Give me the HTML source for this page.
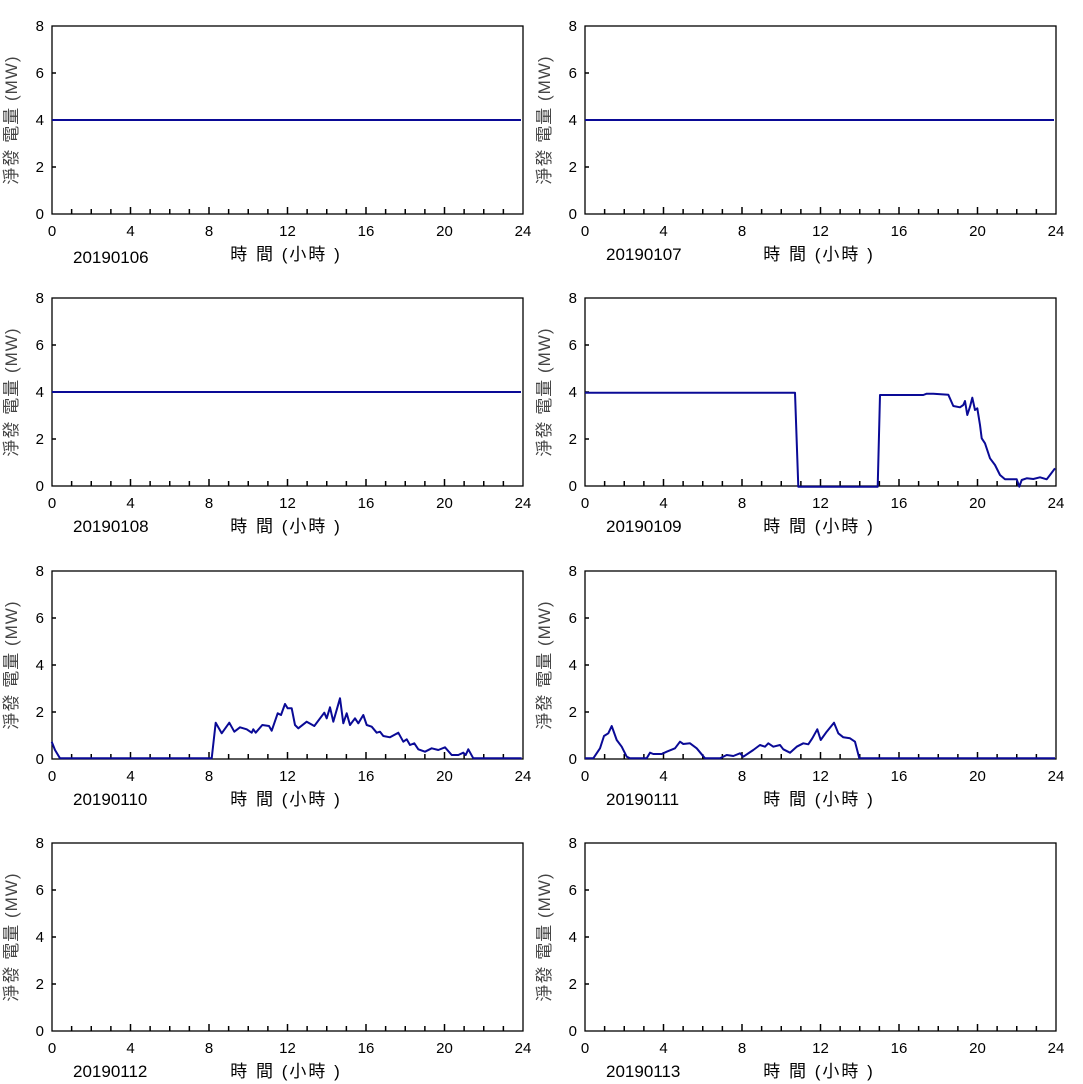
<!DOCTYPE html>
<html><head><meta charset="utf-8"><style>
html,body{margin:0;padding:0;background:#fff;}
svg{display:block;}
text{font-family:"Liberation Sans","Noto Sans CJK TC",sans-serif;}
</style></head><body>
<svg id="s" width="1083" height="1084" xmlns="http://www.w3.org/2000/svg"></svg>
<script>
var s=document.getElementById('s');var h='';
var cols=[52,585],W=471,tops=[26,298,571,843],H=188;
var dates=[['20190106','20190107'],['20190108','20190109'],['20190110','20190111'],['20190112','20190113']];
function X(x0,hr){return x0+hr*W/24;}
for(var r=0;r<4;r++)for(var c=0;c<2;c++){
 var x0=cols[c],y0=tops[r],yb=y0+H;
 h+='<rect x="'+x0+'" y="'+y0+'" width="'+W+'" height="'+H+'" fill="none" stroke="#000" stroke-width="1.3"/>';
 for(var k=1;k<24;k++){var xx=X(x0,k);var L=(k%4==0)?7:5;h+='<line x1="'+xx+'" y1="'+yb+'" x2="'+xx+'" y2="'+(yb-L)+'" stroke="#000" stroke-width="1.5"/>';}
 for(var v=0;v<=8;v+=2){var yy=yb-v*H/8;if(v>0&&v<8)h+='<line x1="'+x0+'" y1="'+yy+'" x2="'+(x0+4)+'" y2="'+yy+'" stroke="#000" stroke-width="1.5"/>';
  h+='<text x="'+(x0-8)+'" y="'+(yy+5)+'" font-size="15" text-anchor="end" fill="#000">'+v+'</text>';}
 for(var k=0;k<=24;k+=4)h+='<text x="'+X(x0,k)+'" y="'+(yb+22)+'" font-size="15" text-anchor="middle">'+k+'</text>';
 h+='<text x="'+(x0+21)+'" y="'+(yb+(c==0&&r==0?49:46))+'" font-size="17">'+dates[r][c]+'</text>';
 h+='<text x="'+(x0+234)+'" y="'+(yb+46)+'" font-size="17" letter-spacing="2" text-anchor="middle">時 間 (小時 )</text>';
 var cy=y0+94,cx=x0-35;
 h+='<text x="'+cx+'" y="'+cy+'" font-size="17" letter-spacing="1" fill="#444" text-anchor="middle" transform="rotate(-90 '+cx+' '+cy+')">淨發 電量 (MW)</text>';
}
function flat(r,c,v){var x0=cols[c],yb=tops[r]+H,yy=yb-v*H/8;h+='<line x1="'+x0+'" y1="'+yy+'" x2="'+(x0+W-2)+'" y2="'+yy+'" stroke="#0a0a96" stroke-width="2"/>';}
flat(0,0,4);flat(0,1,4);flat(1,0,4);
function zl(ox,oy,pts,pre){var a=pre||[];for(var i=0;i<pts.length;i+=2)a.push((ox+pts[i]/3).toFixed(1)+','+(oy+pts[i+1]/3).toFixed(1));
 h+='<polyline points="'+a.join(' ')+'" fill="none" stroke="#0a0a96" stroke-width="2" stroke-linejoin="round"/>';}
zl(580,380,[15,38,645,38,655,320,893,320,900,45,1030,45,1040,41,1060,41,1105,44,1120,78,1140,82,1150,75,1155,63,1162,105,1170,80,1177,53,1185,90,1192,85,1200,135,1205,175,1215,190,1230,235,1245,255,1260,285,1275,298,1310,298,1318,320,1325,300,1340,295,1360,297,1380,292,1400,298,1410,285,1425,265]);
zl(45,690,[20,155,30,180,45,205,500,205,512,98,530,130,553,98,568,125,585,112,605,118,620,128,625,118,632,128,652,105,672,108,680,122,698,70,708,75,720,42,728,55,740,55,750,105,760,115,785,95,808,108,838,68,845,85,855,52,865,95,885,25,895,100,905,70,915,105,930,85,940,100,955,75,965,105,980,110,995,128,1005,125,1015,138,1035,142,1060,128,1075,155,1085,148,1095,165,1108,160,1120,178,1140,185,1160,175,1180,180,1200,172,1220,195,1240,195,1255,188,1262,195,1270,178,1285,205,1430,205]);
zl(580,710,[15,145,40,145,60,115,72,78,85,70,95,48,110,90,125,110,140,140,150,145,200,145,210,128,220,132,245,132,260,125,285,115,300,95,310,102,330,100,350,115,375,145,420,145,440,135,460,138,480,130,490,140,520,120,540,105,555,110,565,100,580,110,600,105,610,118,630,128,650,110,670,100,685,103,697,85,712,58,722,90,740,65,762,38,775,70,790,82,810,85,825,95,838,145,1425,145]);
s.innerHTML=h;
</script>
</body></html>
